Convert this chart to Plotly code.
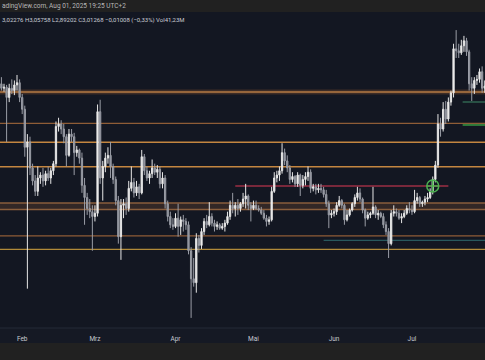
import pandas as pd
import plotly.graph_objects as go

dates = pd.date_range("2025-01-23", "2025-07-29", freq="D")

opens = [
    3.10, 3.14, 3.10, 3.11, 3.02, 3.10, 3.08, 3.13, 3.15,
    3.02, 2.92, 2.62, 2.66, 2.47, 2.38, 2.31, 2.40, 2.42, 2.38, 2.43, 2.40, 2.45, 2.50,
    2.78, 2.80, 2.76, 2.70, 2.56, 2.72, 2.70, 2.58, 2.60, 2.54, 2.35, 2.27, 2.20, 2.18,
    2.15, 2.17, 2.90, 2.40, 2.48, 2.54, 2.56, 2.48, 2.39, 2.25, 2.03, 2.22, 2.23, 2.20,
    2.33, 2.37, 2.30, 2.34, 2.30, 2.55, 2.45, 2.40, 2.43, 2.47, 2.44, 2.46, 2.36, 2.40,
    2.23, 2.15, 2.10,
    2.09, 2.14, 2.09, 2.13, 2.12, 2.10, 1.95, 1.80, 1.78, 2.02, 1.98, 2.06, 2.12, 2.10,
    2.15, 2.11, 2.09, 2.10, 2.08, 2.09, 2.11, 2.15, 2.22, 2.20, 2.22, 2.20, 2.23, 2.26,
    2.28, 2.22,
    2.20, 2.22, 2.20, 2.19, 2.17, 2.14, 2.12, 2.13, 2.31, 2.40, 2.42, 2.45, 2.58, 2.52,
    2.47, 2.39, 2.41, 2.36, 2.42, 2.35, 2.39, 2.41, 2.44, 2.33, 2.34, 2.32, 2.33, 2.32,
    2.29, 2.23, 2.16,
    2.17, 2.18, 2.22, 2.25, 2.22, 2.13, 2.16, 2.19, 2.23, 2.27, 2.30, 2.26, 2.19, 2.14,
    2.16, 2.17, 2.21, 2.16, 2.17, 2.15, 2.10, 2.06, 1.99, 2.17, 2.18, 2.17, 2.14, 2.15,
    2.17, 2.20,
    2.19, 2.18, 2.25, 2.27, 2.23, 2.24, 2.26, 2.27, 2.31, 2.39, 2.49, 2.80, 2.76, 2.92,
    2.84, 2.98, 3.06, 3.47, 3.45, 3.43, 3.50, 3.55, 3.44, 3.14, 3.10, 3.17, 3.18, 3.25,
    3.10,
]
highs = [
    3.22, 3.20, 3.14, 3.13, 3.14, 3.18, 3.17, 3.22, 3.18,
    3.05, 2.95, 2.72, 2.70, 2.50, 2.42, 2.48, 2.44, 2.47, 2.45, 2.48, 2.47, 2.52, 2.82,
    2.85, 2.83, 2.80, 2.72, 2.76, 2.76, 2.73, 2.63, 2.61, 2.58, 2.40, 2.30, 2.26, 2.22,
    2.22, 2.96, 3.00, 2.52, 2.58, 2.62, 2.66, 2.50, 2.41, 2.28, 2.26, 2.26, 2.27, 2.38,
    2.48, 2.40, 2.38, 2.36, 2.60, 2.57, 2.48, 2.45, 2.53, 2.50, 2.49, 2.48, 2.44, 2.42,
    2.25, 2.18, 2.14,
    2.17, 2.23, 2.15, 2.16, 2.14, 2.12, 1.97, 1.91, 2.05, 2.04, 2.08, 2.14, 2.16, 2.24,
    2.17, 2.13, 2.12, 2.11, 2.11, 2.13, 2.18, 2.25, 2.30, 2.24, 2.26, 2.24, 2.30, 2.36,
    2.29, 2.24,
    2.25, 2.25, 2.22, 2.21, 2.19, 2.16, 2.15, 2.34, 2.44, 2.45, 2.48, 2.65, 2.61, 2.56,
    2.49, 2.44, 2.42, 2.44, 2.43, 2.42, 2.44, 2.48, 2.46, 2.36, 2.36, 2.36, 2.36, 2.34,
    2.32, 2.25, 2.19,
    2.20, 2.24, 2.28, 2.26, 2.23, 2.19, 2.20, 2.24, 2.29, 2.34, 2.33, 2.27, 2.20, 2.18,
    2.18, 2.34, 2.22, 2.19, 2.18, 2.17, 2.12, 2.08, 2.19, 2.22, 2.20, 2.19, 2.17, 2.19,
    2.22, 2.24,
    2.22, 2.32, 2.30, 2.28, 2.25, 2.28, 2.30, 2.33, 2.41, 2.52, 2.88, 2.85, 2.98, 2.99,
    3.02, 3.08, 3.52, 3.66, 3.52, 3.56, 3.60, 3.58, 3.46, 3.20, 3.20, 3.22, 3.28, 3.30,
    3.17,
]
lows = [
    3.04, 3.08, 3.07, 2.66, 2.98, 3.05, 3.04, 3.08, 2.98,
    2.88, 2.55, 1.75, 2.42, 2.35, 2.28, 2.28, 2.36, 2.34, 2.35, 2.38, 2.36, 2.42, 2.48,
    2.74, 2.72, 2.65, 2.48, 2.55, 2.66, 2.42, 2.55, 2.50, 2.30, 2.10, 2.16, 2.14, 1.95,
    2.12, 2.15, 2.36, 2.25, 2.44, 2.50, 2.40, 2.36, 2.22, 1.99, 1.90, 2.14, 2.16, 2.18,
    2.31, 2.27, 2.28, 2.26, 2.29, 2.42, 2.38, 2.36, 2.40, 2.42, 2.40, 2.33, 2.33, 2.20,
    2.12, 2.08, 2.07,
    2.08, 2.03, 2.04, 2.06, 2.07, 1.93, 1.61, 1.76, 1.73, 1.94, 1.96, 2.04, 2.08, 2.09,
    2.09, 2.06, 2.07, 2.07, 2.07, 2.06, 2.10, 2.13, 2.17, 2.15, 2.16, 2.18, 2.21, 2.20,
    2.19, 2.12,
    2.19, 2.19, 2.18, 2.16, 2.13, 2.09, 2.10, 2.12, 2.30, 2.37, 2.38, 2.43, 2.49, 2.44,
    2.36, 2.37, 2.34, 2.34, 2.28, 2.33, 2.35, 2.38, 2.30, 2.31, 2.29, 2.30, 2.30, 2.27,
    2.21, 2.08, 2.14,
    2.15, 2.16, 2.21, 2.20, 2.10, 2.12, 2.15, 2.18, 2.21, 2.25, 2.24, 2.17, 2.09, 2.13,
    2.14, 2.16, 2.14, 2.13, 2.14, 2.08, 2.04, 1.91, 1.98, 2.15, 2.15, 2.13, 2.11, 2.14,
    2.16, 2.17,
    2.16, 2.17, 2.23, 2.21, 2.21, 2.22, 2.24, 2.26, 2.29, 2.37, 2.47, 2.70, 2.74, 2.80,
    2.82, 2.95, 3.02, 3.38, 3.38, 3.41, 3.44, 3.40, 3.08, 2.99, 3.05, 3.13, 3.15, 3.06,
    3.06,
]
closes = [
    3.14, 3.10, 3.11, 3.02, 3.10, 3.08, 3.13, 3.15, 3.02,
    2.92, 2.62, 2.66, 2.47, 2.38, 2.31, 2.40, 2.42, 2.38, 2.43, 2.40, 2.45, 2.50, 2.78,
    2.80, 2.76, 2.70, 2.56, 2.72, 2.70, 2.58, 2.60, 2.54, 2.35, 2.27, 2.20, 2.18, 2.15,
    2.17, 2.90, 2.40, 2.48, 2.54, 2.56, 2.48, 2.39, 2.25, 2.03, 2.22, 2.23, 2.20, 2.33,
    2.37, 2.30, 2.34, 2.30, 2.55, 2.45, 2.40, 2.43, 2.47, 2.44, 2.46, 2.36, 2.40, 2.23,
    2.15, 2.10, 2.09,
    2.14, 2.09, 2.13, 2.12, 2.10, 1.95, 1.80, 1.78, 2.02, 1.98, 2.06, 2.12, 2.10, 2.15,
    2.11, 2.09, 2.10, 2.08, 2.09, 2.11, 2.15, 2.22, 2.20, 2.22, 2.20, 2.23, 2.26, 2.28,
    2.22, 2.20,
    2.22, 2.20, 2.19, 2.17, 2.14, 2.12, 2.13, 2.31, 2.40, 2.42, 2.45, 2.58, 2.52, 2.47,
    2.39, 2.41, 2.36, 2.42, 2.35, 2.39, 2.41, 2.44, 2.33, 2.34, 2.32, 2.33, 2.32, 2.29,
    2.23, 2.16, 2.17,
    2.18, 2.22, 2.25, 2.22, 2.13, 2.16, 2.19, 2.23, 2.27, 2.30, 2.26, 2.19, 2.14, 2.16,
    2.17, 2.21, 2.16, 2.17, 2.15, 2.10, 2.06, 1.99, 2.17, 2.18, 2.17, 2.14, 2.15, 2.17,
    2.20, 2.19,
    2.18, 2.25, 2.27, 2.23, 2.24, 2.26, 2.27, 2.31, 2.39, 2.49, 2.80, 2.76, 2.92, 2.84,
    2.98, 3.06, 3.47, 3.45, 3.43, 3.50, 3.55, 3.44, 3.14, 3.10, 3.17, 3.18, 3.25, 3.10,
    3.12,
]

month_ticks = ["2025-02-01", "2025-03-01", "2025-04-01", "2025-05-01", "2025-06-01", "2025-07-01"]
month_labels = ["Feb", "Mrz", "Apr", "Mai", "Jun", "Jul"]

orange_levels = [2.658, 2.479]
dim_levels = [2.805, 2.034]
top_level = 3.067
yellow_level = 1.958
zone_band = [2.194, 2.235]
red_level = 2.346
red_span = ["2025-04-24", "2025-07-15"]
teal_level = 2.009
teal_start = "2025-05-28"
green_levels = [2.981, 2.792]
green_start = "2025-07-20 12:00"
breakout_date = ["2025-07-09"]
breakout_price = [2.346]

header_text = "adingView.com, Aug 01, 2025 19:25 UTC+2"
ohlc_text = "3,02276 H3,05758 L2,89202 C3,01268 \u22120,01008 (\u22120,33%) Vol41,23M"

X0, X1 = "2025-01-23 11:00", "2025-07-29 02:30"
BG = "#131722"
FONT = "Roboto, Open Sans, sans-serif"

fig = go.Figure()
fig.add_trace(go.Candlestick(
    x=dates, open=opens, high=highs, low=lows, close=closes,
    increasing=dict(line=dict(color="#e6e6e6", width=1), fillcolor="#f0f0f0"),
    decreasing=dict(line=dict(color="#9a9da6", width=1), fillcolor="#8a8d96"),
    whiskerwidth=0, showlegend=False, hoverinfo="skip",
))
fig.add_trace(go.Scatter(
    x=breakout_date, y=breakout_price, mode="markers",
    marker=dict(symbol="circle-cross-open", size=12, color="#4caf50", line=dict(width=1.5, color="#4caf50")),
    showlegend=False, hoverinfo="skip",
))

shapes = []
shapes.append(dict(type="rect", xref="paper", yref="y", x0=0, x1=1, y0=zone_band[0], y1=zone_band[1],
                   fillcolor="rgba(110,70,45,0.35)", line=dict(width=0), layer="below"))
for v in zone_band:
    shapes.append(dict(type="line", xref="paper", yref="y", x0=0, x1=1, y0=v, y1=v,
                       line=dict(color="#8a5e3c", width=1.5), layer="below"))
shapes.append(dict(type="line", xref="paper", yref="y", x0=0, x1=1, y0=top_level, y1=top_level,
                   line=dict(color="rgba(110,70,45,0.45)", width=5), layer="below"))
shapes.append(dict(type="line", xref="paper", yref="y", x0=0, x1=1, y0=top_level, y1=top_level,
                   line=dict(color="#b57a44", width=1.5), layer="below"))
for v in orange_levels:
    shapes.append(dict(type="line", xref="paper", yref="y", x0=0, x1=1, y0=v, y1=v,
                       line=dict(color="#c48640", width=1.5), layer="below"))
for v in dim_levels:
    shapes.append(dict(type="line", xref="paper", yref="y", x0=0, x1=1, y0=v, y1=v,
                       line=dict(color="#8f5d37", width=1.3), layer="below"))
shapes.append(dict(type="line", xref="paper", yref="y", x0=0, x1=1, y0=yellow_level, y1=yellow_level,
                   line=dict(color="#b08a3a", width=1.3), layer="below"))
shapes.append(dict(type="line", xref="x", yref="y", x0=teal_start, x1=X1, y0=teal_level, y1=teal_level,
                   line=dict(color="#2f6b6e", width=1), layer="below"))
shapes.append(dict(type="line", xref="x", yref="y", x0=red_span[0], x1=red_span[1], y0=red_level, y1=red_level,
                   line=dict(color="#9c2f45", width=1.5), layer="below"))
shapes.append(dict(type="line", xref="x", yref="y", x0=green_start, x1=X1, y0=green_levels[0], y1=green_levels[0],
                   line=dict(color="#3f8a66", width=1), layer="below"))
shapes.append(dict(type="line", xref="x", yref="y", x0=green_start, x1=X1, y0=green_levels[1], y1=green_levels[1],
                   line=dict(color="#2f7a3a", width=2), layer="below"))
PH = 316.0
shapes.append(dict(type="rect", xref="paper", yref="paper", x0=0, x1=1, y0=0, y1=-15 / PH,
                   fillcolor="#151924", line=dict(width=0), layer="below"))
shapes.append(dict(type="line", xref="paper", yref="paper", x0=0, x1=1, y0=0, y1=0,
                   line=dict(color="#252a36", width=1), layer="below"))

fig.update_layout(
    width=485, height=360, autosize=False,
    margin=dict(l=0, r=0, t=12, b=32, pad=0),
    paper_bgcolor="#212121", plot_bgcolor=BG,
    shapes=shapes,
    xaxis=dict(type="date", range=[X0, X1], rangeslider=dict(visible=False),
               tickvals=month_ticks, ticktext=month_labels, ticks="", ticklabelstandoff=5,
               tickfont=dict(family=FONT, size=6.5, color="#c7c9d0"),
               showgrid=False, zeroline=False, showline=False, fixedrange=True),
    yaxis=dict(type="log", range=[0.1943, 0.5859], showticklabels=False, showgrid=False,
               zeroline=False, showline=False, ticks="", fixedrange=True),
    annotations=[
        dict(text=header_text, xref="paper", yref="paper", x=0, y=1 + 6 / PH, xanchor="left", yanchor="middle",
             showarrow=False, font=dict(family=FONT, size=6.5, color="#b8b8b8")),
        dict(text=ohlc_text, xref="paper", yref="paper", x=0, y=1 - 8 / PH, xanchor="left", yanchor="middle",
             showarrow=False, font=dict(family=FONT, size=6, color="#c9ccd4")),
    ],
)

fig.write_html(
    "out.html",
    config={"displayModeBar": False},
    post_script="document.body.style.margin='0';document.body.style.background='#212121';",
)
